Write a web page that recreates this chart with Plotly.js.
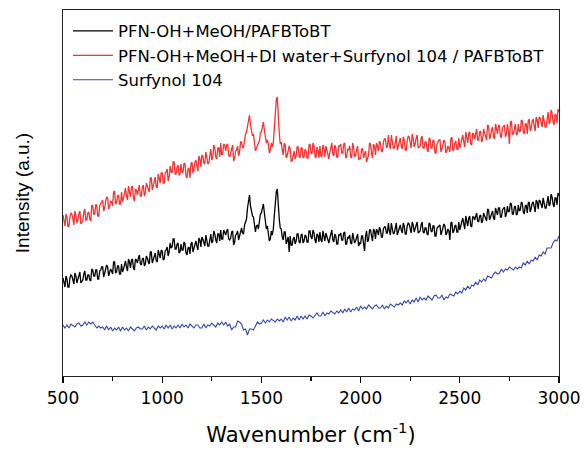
<!DOCTYPE html>
<html>
<head>
<meta charset="utf-8">
<script src="https://cdn.plot.ly/plotly-3.0.1.min.js"></script>
<style>html,body{margin:0;padding:0;background:#fff;}#chart{width:584px;height:454px;}</style>
</head>
<body>
<div id="chart"></div>
<script>
// Sampling grids (cm-1)
const wnStart = 500;
const fineStep = 5;    // PFN-OH spectra
const coarseStep = 10; // Surfynol 104 spectrum

const seriesNames = [
  "PFN-OH+MeOH/PAFBToBT",
  "PFN-OH+MeOH+DI water+Surfynol 104 / PAFBToBT",
  "Surfynol 104"
];

// Intensity (a.u.), every 5 cm-1 from 500 to 3000
const blackIntensity = [
  98,92,89,100,97,89,89,98,101,100,95,92,103,100,93,97,101,104,93,95,
  96,102,105,96,96,101,101,96,95,107,106,100,100,106,106,97,97,105,106,109,
  109,99,102,107,111,109,100,103,107,105,102,114,114,103,104,110,110,102,102,112,
  104,107,113,115,109,105,117,114,108,116,117,108,106,117,116,113,118,121,112,111,
  117,118,110,112,120,118,114,112,124,124,113,116,119,123,115,114,126,122,118,126,
  125,116,117,125,126,129,120,124,133,128,129,137,137,127,127,132,133,123,124,132,
  126,126,134,132,123,121,128,129,122,132,134,124,128,133,135,130,126,138,136,129,
  139,137,132,130,141,136,130,130,137,142,133,135,145,142,136,133,142,142,135,146,
  137,137,146,144,141,145,147,137,136,138,144,145,131,134,141,142,145,136,140,147,
  148,143,142,151,154,157,168,176,181,170,165,160,159,149,144,150,151,147,155,162,
  163,169,172,163,155,147,150,142,135,137,145,141,147,160,174,184,187,168,157,148,
  147,139,136,144,144,132,135,139,124,140,131,131,137,139,132,135,142,142,134,133,
  141,142,133,135,141,140,134,134,145,145,139,137,146,143,136,133,142,141,134,144,
  136,134,145,141,135,143,140,136,133,138,144,146,136,134,142,140,132,132,141,141,
  143,136,136,143,144,132,132,139,138,141,133,132,143,139,133,135,138,142,130,133,
  132,140,140,133,125,140,145,134,136,146,146,140,135,147,145,137,147,145,141,149,
  146,139,139,147,149,149,143,143,153,145,141,153,147,142,143,149,153,141,145,150,
  151,146,143,153,150,142,142,150,153,152,147,143,154,151,144,147,151,154,143,144,
  145,151,154,144,143,148,148,142,141,153,152,145,144,150,150,140,140,148,149,151,
  151,141,144,148,152,150,141,143,147,145,136,153,154,143,145,150,151,144,144,154,
  146,150,155,158,152,147,160,156,150,158,160,150,149,159,159,156,161,163,155,154,
  160,161,153,155,163,160,157,155,167,166,156,159,162,165,158,156,168,165,161,168,
  168,159,159,166,167,169,159,162,170,164,165,173,172,162,162,169,170,161,162,171,
  165,166,174,173,164,162,170,171,163,173,174,164,168,173,174,169,164,176,174,167,
  176,175,170,168,178,173,168,168,174,180,170,172,182,179,172,169,178,178,171,183,
  180
];

const redIntensity = [
  161,153,150,162,159,149,150,159,163,162,155,151,165,161,153,156,162,165,152,153,
  155,164,167,156,156,163,164,157,155,171,170,162,162,171,171,160,160,170,172,175,
  176,165,168,175,179,178,167,170,175,174,170,184,185,172,173,180,181,172,172,184,
  174,178,185,188,180,176,190,186,179,189,190,178,175,187,186,181,188,191,180,180,
  189,191,180,183,193,190,185,184,198,198,186,190,195,199,189,188,202,198,193,203,
  203,193,193,203,204,207,195,199,210,204,203,214,214,202,202,209,211,201,202,212,
  203,204,213,212,200,198,207,208,198,212,214,203,206,214,216,210,205,220,217,209,
  221,220,213,212,224,219,212,213,220,227,216,219,231,228,219,217,228,228,219,233,
  221,222,232,231,225,231,232,221,219,223,229,231,215,218,225,226,230,220,224,234,
  234,228,229,238,242,244,250,259,261,251,247,240,242,229,225,228,232,233,235,243,
  244,250,254,246,240,233,236,232,223,226,233,229,233,247,260,276,279,258,243,232,
  234,226,221,233,231,218,220,225,230,227,215,215,223,225,217,220,229,229,220,218,
  228,228,218,219,227,225,218,218,231,232,223,222,233,230,220,218,229,226,218,230,
  220,219,231,228,219,230,226,221,217,224,231,233,222,220,231,228,219,219,230,230,
  232,223,223,232,233,218,219,227,226,230,219,218,233,228,219,221,226,230,216,218,
  217,227,227,218,222,225,214,219,221,233,232,223,218,232,230,221,233,230,225,235,
  233,225,224,234,237,237,229,229,241,232,227,241,235,228,228,235,240,226,230,237,
  238,230,227,239,236,226,226,235,240,239,232,228,242,238,229,232,238,241,228,229,
  230,238,240,228,228,234,234,227,224,238,237,228,228,236,235,223,223,232,234,236,
  236,224,227,233,236,234,223,225,230,228,224,237,239,225,227,233,235,227,226,238,
  228,232,239,241,234,229,244,239,233,243,244,232,231,243,242,237,245,247,236,236,
  244,245,234,236,247,243,238,236,251,250,237,240,246,249,239,237,252,247,242,251,
  250,239,239,248,249,251,239,242,252,245,232,254,255,242,242,249,252,241,242,252,
  244,245,256,255,244,242,252,252,242,255,257,245,248,255,257,250,245,259,256,248,
  259,258,251,249,261,256,249,249,257,264,252,254,266,263,254,251,262,261,253,267,
  264
];

// Intensity (a.u.), every 10 cm-1 from 500 to 3000
const blueIntensity = [
  51,48,51,48,52,50,49,52,53,50,
  51,54,51,54,52,54,51,48,50,48,
  49,46,50,46,49,45,48,46,49,45,
  49,46,48,45,49,47,45,48,49,47,
  47,50,46,49,47,50,48,46,50,48,
  50,47,51,48,51,47,50,48,51,48,
  52,49,51,48,52,50,48,51,51,48,
  48,52,48,51,50,53,51,49,53,51,
  54,51,54,50,52,46,49,49,55,54,
  52,46,47,41,47,47,46,51,54,52,
  53,56,53,56,54,57,55,54,57,55,
  57,54,59,56,59,55,58,56,60,56,
  60,57,60,57,61,60,58,61,63,60,
  60,64,60,63,62,65,63,62,65,63,
  66,63,67,64,68,64,67,66,69,65,
  70,67,69,67,71,69,67,70,71,68,
  68,71,67,70,68,72,70,69,72,71,
  73,71,75,73,76,72,76,74,78,74,
  79,76,78,76,80,78,76,80,81,78,
  78,81,76,79,78,82,81,80,84,82,
  85,83,88,86,90,87,91,90,94,91,
  96,94,97,95,100,99,98,102,104,102,
  103,107,104,107,106,109,107,106,109,107,
  109,108,113,111,115,112,116,115,119,116,
  121,120,124,122,128,128,128,133,136,135,
  140
];

const xTickVals = [500, 1000, 1500, 2000, 2500, 3000];
const xTickText = ["500", "1000", "1500", "2000", "2500", "3000"];

const wnFine = blackIntensity.map((_, i) => wnStart + i * fineStep);
const wnCoarse = blueIntensity.map((_, i) => wnStart + i * coarseStep);

const colors = ["#000000", "#f03434", "#3848a8"];
const widths = [1.3, 1.3, 1.1];
const xs = [wnFine, wnFine, wnCoarse];
const ys = [blackIntensity, redIntensity, blueIntensity];

const traces = ys.map((y, i) => ({
  x: xs[i],
  y: y,
  type: "scatter",
  mode: "lines",
  name: seriesNames[i],
  line: {color: colors[i], width: widths[i]}
}));

const fontH = "DejaVu Sans, Liberation Sans, Arial, sans-serif";
const fontV = "Liberation Sans, Arial, sans-serif";

const layout = {
  width: 584,
  height: 454,
  margin: {l: 63, r: 25, t: 10, b: 78},
  paper_bgcolor: "#fff",
  plot_bgcolor: "#fff",
  font: {family: fontH, color: "#000"},
  showlegend: true,
  legend: {
    x: 0.01, y: 0.99, xanchor: "left", yanchor: "top",
    bgcolor: "rgba(0,0,0,0)",
    font: {family: fontH, size: 16.5, color: "#000"},
    itemwidth: 40,
    tracegroupgap: 0
  },
  xaxis: {
    range: [500, 3000],
    tickmode: "array",
    tickvals: xTickVals,
    ticktext: xTickText,
    ticks: "outside",
    ticklen: 6,
    tickwidth: 1.3,
    tickcolor: "#000",
    minor: {dtick: 250, tick0: 500, ticks: "outside", ticklen: 4, tickwidth: 1.2, tickcolor: "#000", showgrid: false},
    showline: true,
    mirror: true,
    linecolor: "#222",
    linewidth: 1.4,
    showgrid: false,
    zeroline: false,
    tickfont: {family: fontH, size: 17, color: "#000"},
    title: {text: "Wavenumber (cm<sup>-1</sup>)", font: {family: fontH, size: 21, color: "#000"}, standoff: 20}
  },
  yaxis: {
    range: [0, 366],
    showticklabels: false,
    ticks: "",
    showline: true,
    mirror: true,
    linecolor: "#222",
    linewidth: 1.4,
    showgrid: false,
    zeroline: false,
    title: {text: "Intensity (a.u.)", font: {family: fontV, size: 19, color: "#000"}, standoff: 27}
  }
};

Plotly.newPlot("chart", traces, layout, {displayModeBar: false, staticPlot: true});
</script>
</body>
</html>
